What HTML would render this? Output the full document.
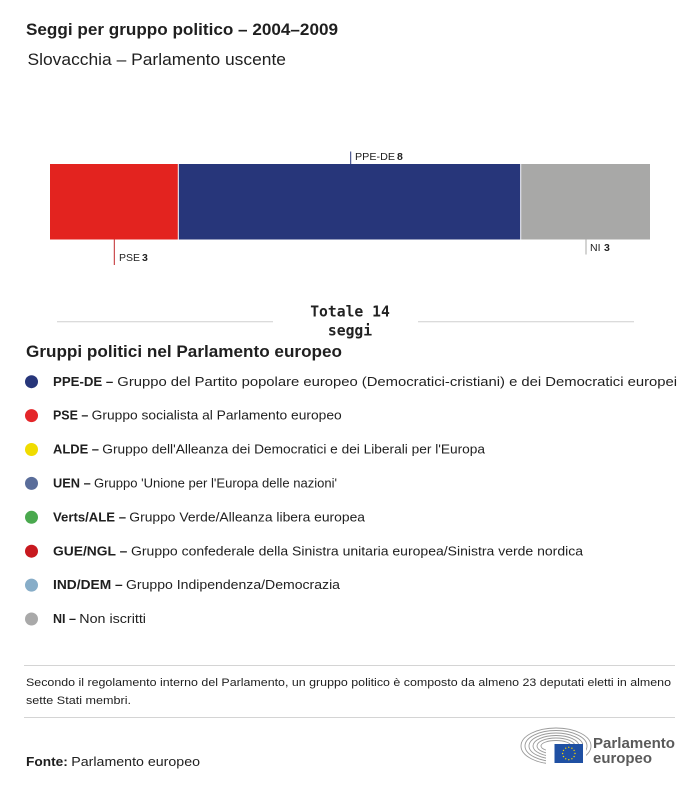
<!DOCTYPE html>
<html>
<head>
<meta charset="utf-8">
<style>
html,body{margin:0;padding:0;background:#fff;}
svg{display:block;}
text{font-family:"Liberation Sans",sans-serif;fill:#1f1f1f;}
.b{font-weight:bold;}
.m{font-family:"DejaVu Sans Mono","Liberation Mono",monospace;font-weight:bold;font-size:14.7px;fill:#222;}
</style>
</head>
<body>
<svg width="700" height="786" viewBox="0 0 700 786" xmlns="http://www.w3.org/2000/svg">
  <!-- Title -->
  <text class="b" x="26" y="35" font-size="16.5" textLength="312" lengthAdjust="spacingAndGlyphs">Seggi per gruppo politico – 2004–2009</text>
  <text x="27.5" y="65" font-size="16.5" textLength="258.5" lengthAdjust="spacingAndGlyphs">Slovacchia – Parlamento uscente</text>

  <!-- Bar -->
  <rect x="50" y="164" width="127.8" height="75.5" fill="#e3231f"/>
  <rect x="178.8" y="164" width="341.4" height="75.5" fill="#27367a"/>
  <rect x="521.2" y="164" width="128.8" height="75.5" fill="#a8a8a7"/>

  <!-- Bar labels -->
  <line x1="350.7" y1="151.5" x2="350.7" y2="164" stroke="#27367a" stroke-width="1"/>
  <text x="355" y="160" font-size="10.5" textLength="40" lengthAdjust="spacingAndGlyphs">PPE-DE</text>
  <text class="b" x="397" y="160" font-size="10.5">8</text>

  <line x1="114.3" y1="239.5" x2="114.3" y2="265" stroke="#c0262a" stroke-width="1"/>
  <text x="119" y="261" font-size="10.5">PSE</text>
  <text class="b" x="142" y="261" font-size="10.5">3</text>

  <line x1="586" y1="239.5" x2="586" y2="254.5" stroke="#a8a8a7" stroke-width="1"/>
  <text x="590" y="251" font-size="10.5">NI</text>
  <text class="b" x="604" y="251" font-size="10.5">3</text>

  <!-- Totale -->
  <line x1="57" y1="321.7" x2="273" y2="321.7" stroke="#cfcfcf" stroke-width="1"/>
  <line x1="418" y1="321.7" x2="634" y2="321.7" stroke="#cfcfcf" stroke-width="1"/>
  <text class="m" x="350" y="316.7" text-anchor="middle">Totale 14</text>
  <text class="m" x="350" y="335.7" text-anchor="middle">seggi</text>

  <!-- Legend header -->
  <text class="b" x="26" y="357" font-size="16.5" textLength="316" lengthAdjust="spacingAndGlyphs">Gruppi politici nel Parlamento europeo</text>

  <!-- Legend rows -->
  <circle cx="31.5" cy="381.7" r="6.5" fill="#27367a"/>
  <text class="b" x="53" y="385.8" font-size="13.3" textLength="60.3" lengthAdjust="spacingAndGlyphs">PPE-DE –</text>
  <text x="117.3" y="385.8" font-size="13.3" textLength="559.7" lengthAdjust="spacingAndGlyphs">Gruppo del Partito popolare europeo (Democratici-cristiani) e dei Democratici europei</text>

  <circle cx="31.5" cy="415.6" r="6.5" fill="#e4262a"/>
  <text class="b" x="53" y="419.7" font-size="13.3" textLength="35.3" lengthAdjust="spacingAndGlyphs">PSE –</text>
  <text x="91.7" y="419.7" font-size="13.3" textLength="250" lengthAdjust="spacingAndGlyphs">Gruppo socialista al Parlamento europeo</text>

  <circle cx="31.5" cy="449.5" r="6.5" fill="#f0dc00"/>
  <text class="b" x="53" y="453.6" font-size="13.3" textLength="46" lengthAdjust="spacingAndGlyphs">ALDE –</text>
  <text x="102.3" y="453.6" font-size="13.3" textLength="382.7" lengthAdjust="spacingAndGlyphs">Gruppo dell'Alleanza dei Democratici e dei Liberali per l'Europa</text>

  <circle cx="31.5" cy="483.4" r="6.5" fill="#5a6d9a"/>
  <text class="b" x="53" y="487.5" font-size="13.3" textLength="37.7" lengthAdjust="spacingAndGlyphs">UEN –</text>
  <text x="94" y="487.5" font-size="13.3" textLength="243" lengthAdjust="spacingAndGlyphs">Gruppo 'Unione per l'Europa delle nazioni'</text>

  <circle cx="31.5" cy="517.3" r="6.5" fill="#4aa94e"/>
  <text class="b" x="53" y="521.4" font-size="13.3" textLength="73" lengthAdjust="spacingAndGlyphs">Verts/ALE –</text>
  <text x="129.3" y="521.4" font-size="13.3" textLength="235.7" lengthAdjust="spacingAndGlyphs">Gruppo Verde/Alleanza libera europea</text>

  <circle cx="31.5" cy="551.2" r="6.5" fill="#c8191f"/>
  <text class="b" x="53" y="555.3" font-size="13.3" textLength="74.3" lengthAdjust="spacingAndGlyphs">GUE/NGL –</text>
  <text x="131" y="555.3" font-size="13.3" textLength="452" lengthAdjust="spacingAndGlyphs">Gruppo confederale della Sinistra unitaria europea/Sinistra verde nordica</text>

  <circle cx="31.5" cy="585.1" r="6.5" fill="#87adc8"/>
  <text class="b" x="53" y="589.2" font-size="13.3" textLength="69.7" lengthAdjust="spacingAndGlyphs">IND/DEM –</text>
  <text x="126" y="589.2" font-size="13.3" textLength="214" lengthAdjust="spacingAndGlyphs">Gruppo Indipendenza/Democrazia</text>

  <circle cx="31.5" cy="619" r="6.5" fill="#a9a9a9"/>
  <text class="b" x="53" y="623.1" font-size="13.3" textLength="23" lengthAdjust="spacingAndGlyphs">NI –</text>
  <text x="79.3" y="623.1" font-size="13.3" textLength="66.7" lengthAdjust="spacingAndGlyphs">Non iscritti</text>

  <!-- Footnote -->
  <line x1="24" y1="665.5" x2="675" y2="665.5" stroke="#d4d4d4" stroke-width="1"/>
  <text x="26" y="686" font-size="11" fill="#333" textLength="645" lengthAdjust="spacingAndGlyphs">Secondo il regolamento interno del Parlamento, un gruppo politico è composto da almeno 23 deputati eletti in almeno</text>
  <text x="26" y="704" font-size="11" fill="#333" textLength="105" lengthAdjust="spacingAndGlyphs">sette Stati membri.</text>
  <line x1="24" y1="717.5" x2="675" y2="717.5" stroke="#d4d4d4" stroke-width="1"/>

  <!-- Fonte -->
  <text class="b" x="26" y="766" font-size="13.3" textLength="41.8" lengthAdjust="spacingAndGlyphs">Fonte:</text>
  <text x="71.3" y="766" font-size="13.3" textLength="128.7" lengthAdjust="spacingAndGlyphs">Parlamento europeo</text>

  <!-- Logo -->
  <g fill="none" stroke="#9a9a9a" stroke-width="0.9">
    <ellipse cx="556" cy="746" rx="35" ry="18"/>
    <ellipse cx="556" cy="746" rx="31" ry="15.5"/>
    <ellipse cx="556" cy="746" rx="27" ry="13"/>
    <ellipse cx="556" cy="746" rx="23" ry="10.5"/>
    <ellipse cx="556" cy="746" rx="19" ry="8"/>
    <ellipse cx="556" cy="746" rx="15" ry="5.5"/>
  </g>
  <rect x="546" y="744" width="40" height="25" fill="#fff"/>
  <rect x="554.5" y="744" width="28.5" height="19" fill="#1f50a3"/>
  <g fill="#f5d400">
    <circle cx="568.8" cy="747.3" r="0.7"/>
    <circle cx="571.9" cy="748.2" r="0.7"/>
    <circle cx="574.1" cy="750.4" r="0.7"/>
    <circle cx="575" cy="753.5" r="0.7"/>
    <circle cx="574.1" cy="756.6" r="0.7"/>
    <circle cx="571.9" cy="758.8" r="0.7"/>
    <circle cx="568.8" cy="759.7" r="0.7"/>
    <circle cx="565.7" cy="758.8" r="0.7"/>
    <circle cx="563.5" cy="756.6" r="0.7"/>
    <circle cx="562.6" cy="753.5" r="0.7"/>
    <circle cx="563.5" cy="750.4" r="0.7"/>
    <circle cx="565.7" cy="748.2" r="0.7"/>
  </g>
  <text class="b" x="593" y="748" font-size="15" style="fill:#5a5a5a" textLength="82" lengthAdjust="spacingAndGlyphs">Parlamento</text>
  <text class="b" x="593" y="763" font-size="15" style="fill:#5a5a5a" textLength="59" lengthAdjust="spacingAndGlyphs">europeo</text>
</svg>
</body>
</html>
